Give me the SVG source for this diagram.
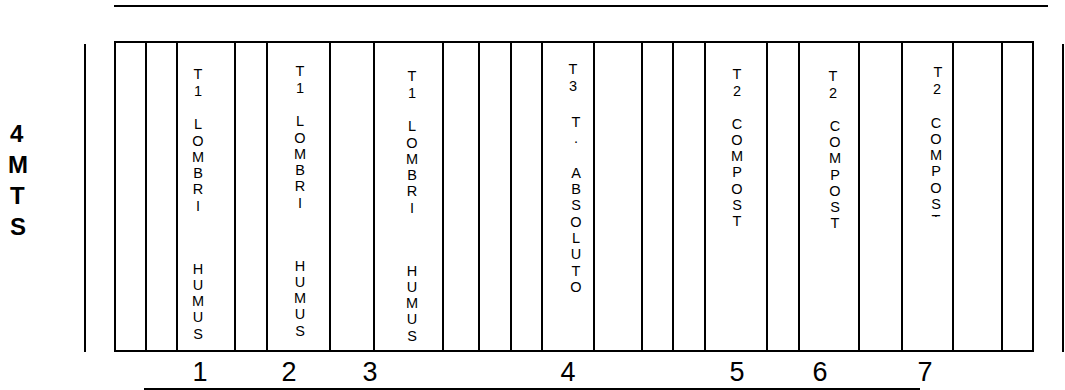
<svg xmlns="http://www.w3.org/2000/svg" width="1065" height="390" viewBox="0 0 1065 390">
<style>
.ln{stroke:#000;stroke-width:2;fill:none}
.v{font-family:"Liberation Sans",Arial,sans-serif;font-size:14.5px;fill:#000;text-anchor:middle}
.side{font-family:"Liberation Sans",Arial,sans-serif;font-size:24px;font-weight:bold;fill:#000}
.num{font-family:"Liberation Sans",Arial,sans-serif;font-size:27px;fill:#000;text-anchor:middle}
</style>
<defs>
<clipPath id="c7"><rect x="900" y="40" width="60" height="177"/></clipPath>
</defs>
<rect width="1065" height="390" fill="#fff"/>
<g id="connectors">
<line class="ln" x1="114" y1="6" x2="1048" y2="6" stroke-width="2.5"/>
<line class="ln" x1="114" y1="42" x2="1034" y2="42"/>
<line class="ln" x1="114" y1="351" x2="1034" y2="351" stroke-width="2.5"/>
<line class="ln" x1="85" y1="44" x2="85" y2="352"/>
<line class="ln" x1="1063" y1="44" x2="1063" y2="352"/>
<line class="ln" x1="144" y1="389" x2="920" y2="389" stroke-width="1.5"/>
<g>
<line class="ln" x1="115" y1="42" x2="115" y2="351"/>
<line class="ln" x1="146" y1="42" x2="146" y2="351"/>
<line class="ln" x1="177" y1="42" x2="177" y2="351"/>
<line class="ln" x1="235" y1="42" x2="235" y2="351"/>
<line class="ln" x1="267" y1="42" x2="267" y2="351"/>
<line class="ln" x1="330" y1="42" x2="330" y2="351"/>
<line class="ln" x1="374" y1="42" x2="374" y2="351"/>
<line class="ln" x1="443" y1="42" x2="443" y2="351"/>
<line class="ln" x1="479" y1="42" x2="479" y2="351"/>
<line class="ln" x1="511" y1="42" x2="511" y2="351"/>
<line class="ln" x1="542" y1="42" x2="542" y2="351"/>
<line class="ln" x1="594" y1="42" x2="594" y2="351"/>
<line class="ln" x1="642" y1="42" x2="642" y2="351"/>
<line class="ln" x1="673" y1="42" x2="673" y2="351"/>
<line class="ln" x1="705" y1="42" x2="705" y2="351"/>
<line class="ln" x1="767" y1="42" x2="767" y2="351"/>
<line class="ln" x1="799" y1="42" x2="799" y2="351"/>
<line class="ln" x1="859" y1="42" x2="859" y2="351"/>
<line class="ln" x1="902" y1="42" x2="902" y2="351"/>
<line class="ln" x1="953" y1="42" x2="953" y2="351"/>
<line class="ln" x1="1002" y1="42" x2="1002" y2="351"/>
<line class="ln" x1="1033" y1="42" x2="1033" y2="351"/>
</g>
</g>
<g id="side-label">
<text class="side" x="10" y="142">4</text>
<text class="side" x="8" y="173">M</text>
<text class="side" x="10" y="204">T</text>
<text class="side" x="10" y="235">S</text>
</g>
<g id="col1">
<text class="v" x="198" y="79">T</text><text class="v" x="198" y="96">1</text>
<text class="v" x="198" y="129">L</text><text class="v" x="198" y="146">O</text><text class="v" x="198" y="162">M</text><text class="v" x="198" y="178">B</text><text class="v" x="198" y="194">R</text><text class="v" x="198" y="211">I</text>
<text class="v" x="198" y="274">H</text><text class="v" x="198" y="290">U</text><text class="v" x="198" y="306">M</text><text class="v" x="198" y="322">U</text><text class="v" x="198" y="339">S</text>
</g>
<g id="col2">
<text class="v" x="300" y="76">T</text><text class="v" x="300" y="93">1</text>
<text class="v" x="300" y="126">L</text><text class="v" x="300" y="143">O</text><text class="v" x="300" y="159">M</text><text class="v" x="300" y="175">B</text><text class="v" x="300" y="191">R</text><text class="v" x="300" y="208">I</text>
<text class="v" x="300" y="271">H</text><text class="v" x="300" y="287">U</text><text class="v" x="300" y="303">M</text><text class="v" x="300" y="319">U</text><text class="v" x="300" y="336">S</text>
</g>
<g id="col3">
<text class="v" x="412" y="81">T</text><text class="v" x="412" y="98">1</text>
<text class="v" x="412" y="131">L</text><text class="v" x="412" y="148">O</text><text class="v" x="412" y="164">M</text><text class="v" x="412" y="180">B</text><text class="v" x="412" y="196">R</text><text class="v" x="412" y="213">I</text>
<text class="v" x="412" y="276">H</text><text class="v" x="412" y="292">U</text><text class="v" x="412" y="308">M</text><text class="v" x="412" y="324">U</text><text class="v" x="412" y="341">S</text>
</g>
<g id="col4">
<text class="v" x="573" y="74">T</text><text class="v" x="573" y="91">3</text>
<text class="v" x="576" y="127">T</text><text class="v" x="576" y="143">.</text>
<text class="v" x="576" y="178">A</text><text class="v" x="576" y="194">B</text><text class="v" x="576" y="210">S</text><text class="v" x="576" y="227">O</text><text class="v" x="576" y="243">L</text><text class="v" x="576" y="259">U</text><text class="v" x="576" y="276">T</text><text class="v" x="576" y="292">O</text>
</g>
<g id="col5">
<text class="v" x="737" y="79">T</text><text class="v" x="737" y="96">2</text>
<text class="v" x="737" y="129">C</text><text class="v" x="737" y="145">O</text><text class="v" x="737" y="161">M</text><text class="v" x="737" y="177">P</text><text class="v" x="737" y="194">O</text><text class="v" x="737" y="210">S</text><text class="v" x="737" y="226">T</text>
</g>
<g id="col6">
<text class="v" x="833" y="81">T</text><text class="v" x="833" y="98">2</text>
<text class="v" x="835" y="131">C</text><text class="v" x="835" y="147">O</text><text class="v" x="835" y="163">M</text><text class="v" x="835" y="180">P</text><text class="v" x="835" y="196">O</text><text class="v" x="835" y="212">S</text><text class="v" x="835" y="228">T</text>
</g>
<g id="col7">
<text class="v" x="938" y="77">T</text><text class="v" x="937" y="94">2</text>
<text class="v" x="936" y="128">C</text><text class="v" x="936" y="144">O</text><text class="v" x="936" y="160">M</text><text class="v" x="936" y="176">P</text><text class="v" x="936" y="193">O</text><text class="v" x="936" y="209">S</text>
<text class="v" x="936" y="225" clip-path="url(#c7)">T</text>
</g>
<g id="numbers">
<text class="num" x="200" y="381">1</text>
<text class="num" x="289" y="381">2</text>
<text class="num" x="370" y="381">3</text>
<text class="num" x="568" y="381">4</text>
<text class="num" x="737" y="381">5</text>
<text class="num" x="820" y="381">6</text>
<text class="num" x="925" y="381">7</text>
</g>
</svg>
